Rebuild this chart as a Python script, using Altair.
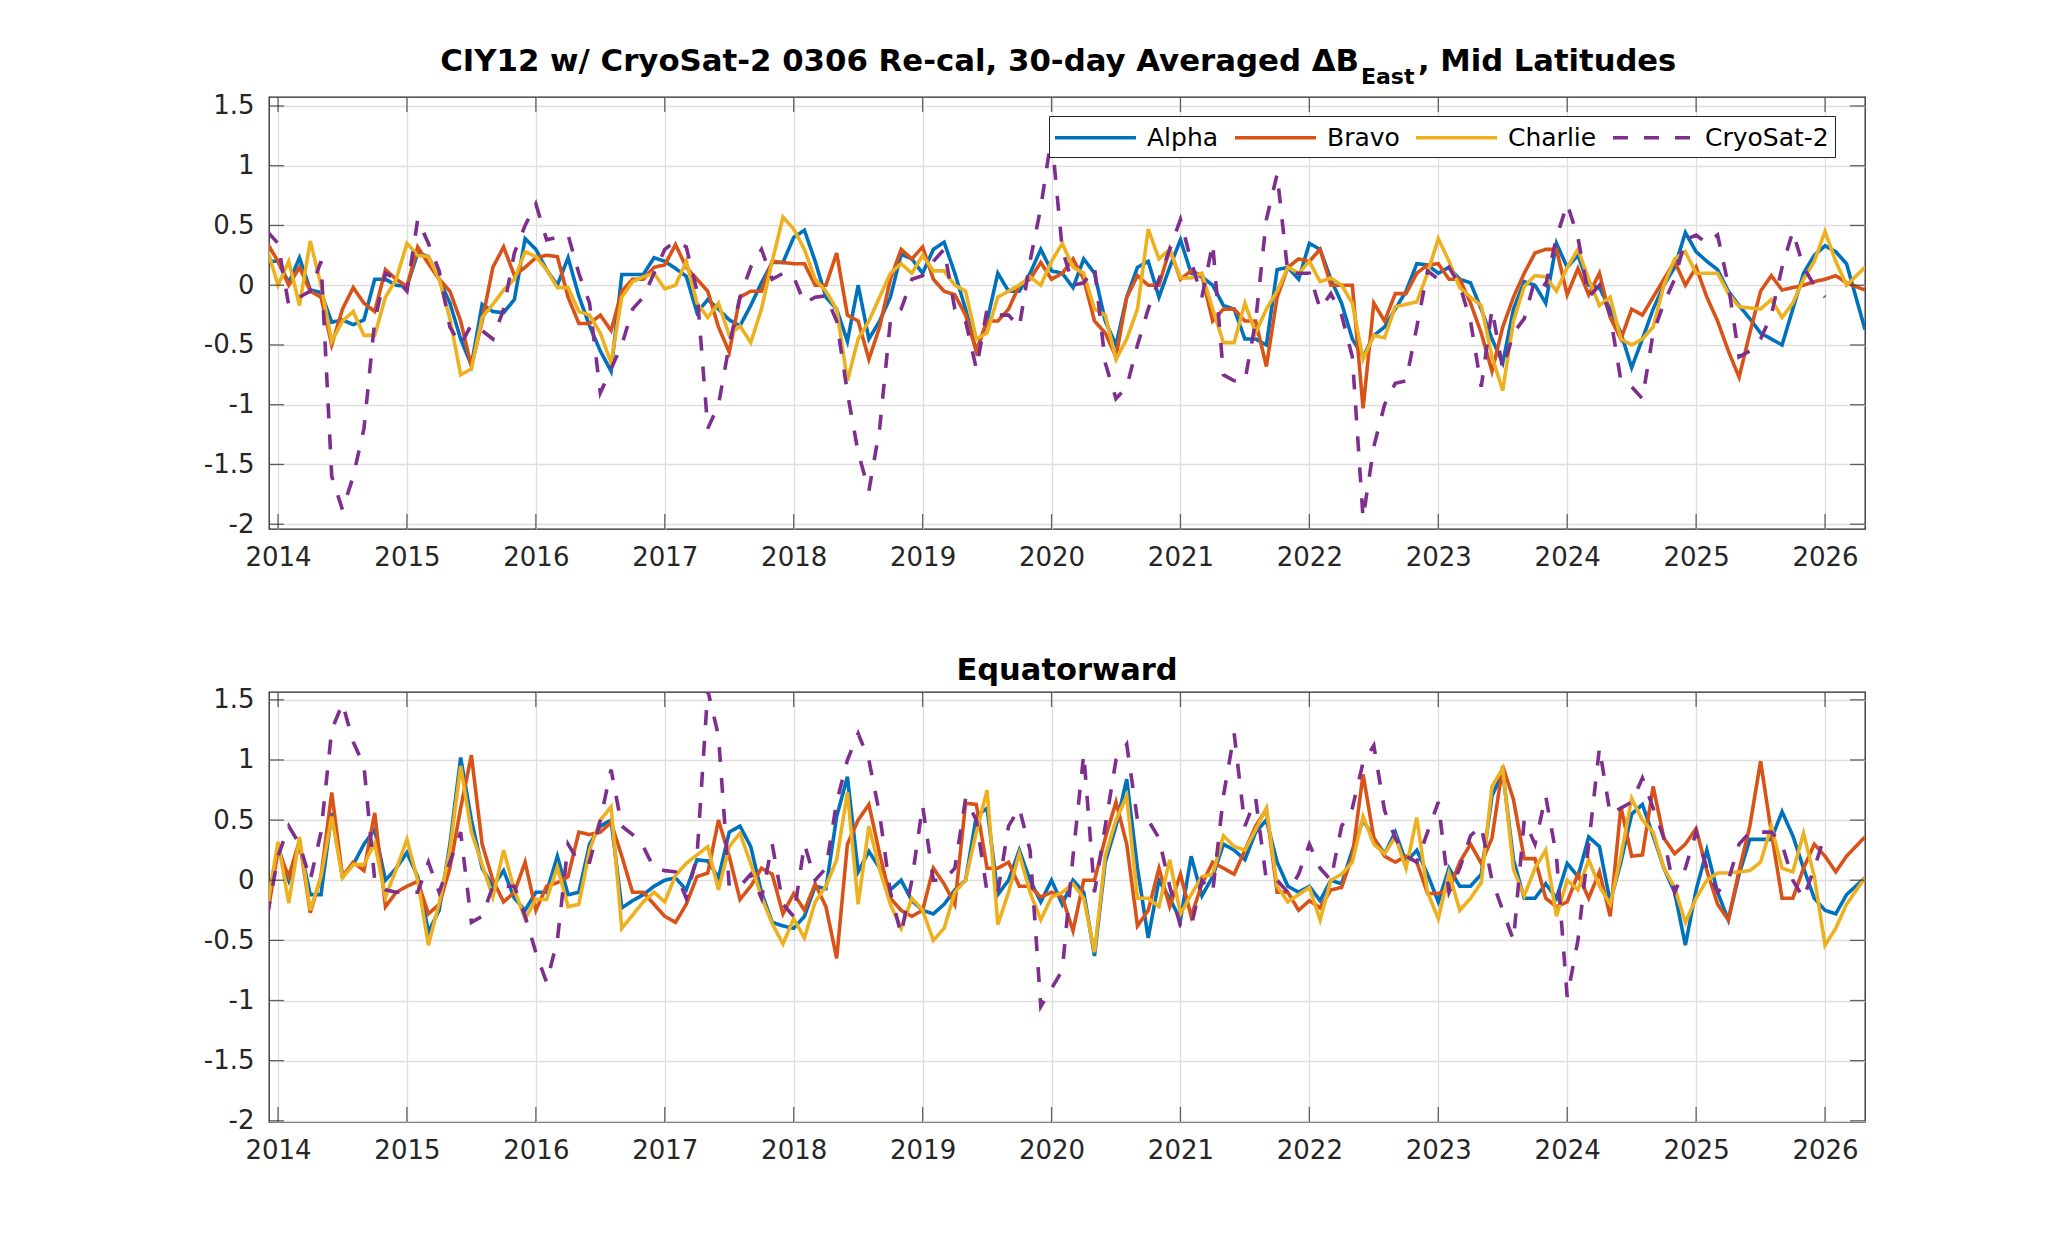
import altair as alt
import numpy as np
import pandas as pd

NAMES = ["Alpha", "Bravo", "Charlie", "CryoSat-2"]
COLORS = ["#0072BD", "#D95319", "#EDB120", "#7E2F8E"]
DASHES = [[1, 0], [1, 0], [1, 0], [15, 16]]
YEARS = list(range(2014, 2027))
YTICKS = [-2, -1.5, -1, -0.5, 0, 0.5, 1, 1.5]
T0, T1 = 2013.93, 2026.31
# monthly samples from Dec 2013; the last sample sits at the right edge of the axes
TIMES = [2014 + k / 12 for k in range(-1, 147)] + [T1]

TITLE_MAIN = "CIY12 w/ CryoSat-2 0306 Re-cal, 30-day Averaged \u0394B"
TITLE_SUB = "East"
TITLE_TAIL = ", Mid Latitudes"
TITLE_BOTTOM = "Equatorward"

top_alpha = [0.2, 0.2, 0.02, 0.23, -0.04, -0.06, -0.31, -0.29, -0.33, -0.29, 0.05, 0.05, 0.0,
             -0.01, 0.27, 0.24, 0.05, -0.15, -0.45, -0.67, -0.16, -0.22, -0.23, -0.12, 0.39,
             0.30, 0.13, 0.0, 0.23, -0.09, -0.34, -0.55, -0.72, 0.09, 0.09, 0.09, 0.23,
             0.2, 0.14, 0.075, -0.23, -0.12, -0.2, -0.29, -0.34, -0.17, 0.02, 0.19, 0.19,
             0.4, 0.46, 0.2, -0.1, -0.2, -0.47, 0.0, -0.45, -0.3, -0.1, 0.26, 0.22,
             0.1, 0.3, 0.36, 0.1, -0.2, -0.55, -0.3, 0.1, -0.05, -0.05, 0.1, 0.3,
             0.12, 0.1, -0.02, 0.22, 0.1, -0.3, -0.5, -0.1, 0.15, 0.2, -0.1, 0.15,
             0.38, 0.1, 0.07, 0.0, -0.17, -0.2, -0.45, -0.45, -0.5, 0.13, 0.15, 0.05,
             0.35, 0.3, 0.05, -0.15, -0.45, -0.6, -0.42, -0.35, -0.2, -0.05, 0.18, 0.17,
             0.1, 0.15, 0.05, 0.02, -0.2, -0.45, -0.65, -0.2, 0.03, 0.0, -0.15, 0.35,
             0.15, 0.25, 0.0, -0.02, -0.2, -0.4, -0.69, -0.45, -0.2, 0.0, 0.15, 0.44,
             0.28, 0.2, 0.13, -0.05, -0.17, -0.28, -0.4, -0.45, -0.5, -0.2, 0.1, 0.25,
             0.33, 0.28, 0.18, -0.37]

top_bravo = [0.35, 0.2, 0.0, 0.15, -0.05, -0.1, -0.5, -0.2, -0.02, -0.15, -0.22, 0.13, 0.05,
             -0.01, 0.32, 0.18, 0.05, -0.05, -0.3, -0.68, -0.3, 0.15, 0.32, 0.08, 0.15,
             0.23, 0.25, 0.24, -0.1, -0.32, -0.32, -0.25, -0.38, -0.05, 0.05, 0.05, 0.15,
             0.17, 0.34, 0.15, 0.05, -0.05, -0.35, -0.56, -0.1, -0.05, -0.05, 0.2, 0.19,
             0.18, 0.18, 0.0, 0.0, 0.27, -0.25, -0.3, -0.62, -0.35, 0.05, 0.3, 0.22,
             0.32, 0.05, -0.05, -0.08, -0.25, -0.55, -0.3, -0.3, -0.2, 0.0, 0.05, 0.19,
             0.05, 0.1, 0.22, 0.05, -0.3, -0.4, -0.6, -0.1, 0.08, 0.0, 0.0, 0.3,
             0.05, 0.12, 0.08, -0.3, -0.2, -0.2, -0.3, -0.3, -0.68, -0.1, 0.15, 0.22,
             0.2, 0.3, 0.0, 0.0, 0.0, -1.03, -0.15, -0.3, -0.07, -0.07, 0.1, 0.17,
             0.18, 0.05, 0.05, -0.15, -0.4, -0.72, -0.35, -0.1, 0.1, 0.27, 0.3, 0.3,
             -0.08, 0.14, -0.08, 0.1, -0.27, -0.45, -0.2, -0.25, -0.1, 0.05, 0.2, 0.0,
             0.15, -0.1, -0.3, -0.55, -0.77, -0.4, -0.05, 0.08, -0.04, -0.02, 0.0, 0.03,
             0.05, 0.08, 0.02, -0.04]

top_charlie = [0.3, 0.0, 0.2, -0.17, 0.37, 0.0, -0.47, -0.3, -0.22, -0.42, -0.42, -0.1, 0.05,
               0.35, 0.25, 0.24, 0.05, -0.28, -0.75, -0.7, -0.27, -0.16, -0.04, 0.05, 0.28,
               0.24, 0.13, -0.02, -0.02, -0.22, -0.25, -0.4, -0.65, -0.1, 0.03, 0.07, 0.1,
               -0.03, 0.0, 0.2, -0.15, -0.27, -0.15, -0.42, -0.34, -0.48, -0.2, 0.2, 0.57,
               0.47, 0.3, 0.05, -0.05, -0.2, -0.8, -0.45, -0.3, -0.1, 0.1, 0.18, 0.1,
               0.25, 0.12, 0.12, 0.0, -0.05, -0.45, -0.4, -0.1, -0.05, 0.0, 0.07, 0.0,
               0.2, 0.35, 0.15, 0.1, -0.2, -0.25, -0.62, -0.45, -0.2, 0.47, 0.22, 0.3,
               0.06, 0.06, 0.1, -0.2, -0.48, -0.48, -0.15, -0.4, -0.2, -0.05, 0.15, 0.1,
               0.2, 0.03, 0.06, 0.0, -0.15, -0.62, -0.42, -0.44, -0.18, -0.16, -0.14, 0.1,
               0.39, 0.2, -0.02, -0.1, -0.17, -0.6, -0.88, -0.3, -0.01, 0.08, 0.07, -0.05,
               0.15, 0.3, 0.05, -0.17, -0.1, -0.45, -0.5, -0.45, -0.35, 0.0, 0.22, 0.28,
               0.1, 0.1, 0.1, -0.07, -0.18, -0.19, -0.2, -0.12, -0.27, -0.15, 0.05, 0.2,
               0.45, 0.2, 0.0, 0.15]

top_cryosat = [0.45, 0.35, -0.17, -0.1, -0.05, 0.2, -1.6, -1.88, -1.6, -1.2, -0.3, 0.1, 0.05,
               -0.05, 0.55, 0.35, 0.12, -0.35, -0.5, -0.33, -0.38, -0.45, -0.2, 0.27, 0.5,
               0.68, 0.38, 0.4, 0.42, 0.1, -0.15, -0.9, -0.7, -0.5, -0.2, -0.1, 0.1,
               0.3, 0.37, 0.32, -0.05, -1.2, -1.0, -0.5, -0.1, 0.15, 0.3, 0.05, 0.1,
               0.07, -0.15, -0.1, -0.09, -0.3, -0.9, -1.4, -1.72, -1.2, -0.3, -0.2, 0.05,
               0.08, 0.2, 0.3, -0.2, -0.3, -0.7, -0.2, -0.25, -0.25, -0.35, 0.2, 0.65,
               1.25, 0.3, 0.0, 0.02, 0.15, -0.65, -0.95, -0.85, -0.5, -0.2, 0.05, 0.3,
               0.55, 0.2, -0.1, 0.35, -0.75, -0.8, -0.8, -0.3, 0.55, 0.93, 0.1, 0.1,
               0.1, -0.2, -0.07, -0.25, -0.6, -1.95, -1.35, -1.0, -0.82, -0.8, -0.35, 0.12,
               0.05, 0.15, 0.0, -0.3, -0.85, -0.2, -0.7, -0.4, -0.28, 0.05, 0.0, 0.4,
               0.68, 0.4, -0.1, 0.0, -0.25, -0.8, -0.85, -0.95, -0.4, -0.15, 0.05, 0.38,
               0.42, 0.35, 0.42, 0.0, -0.6, -0.55, -0.45, -0.25, 0.15, 0.45, 0.15, 0.0,
               -0.1, None, None, None]

bot_alpha = [-0.22, 0.28, 0.0, 0.3, -0.12, -0.12, 0.56, 0.03, 0.13, 0.3, 0.42, 0.0, 0.1,
             0.23, 0.03, -0.43, -0.25, 0.3, 1.02, 0.5, 0.1, -0.05, 0.08, -0.15, -0.25,
             -0.1, -0.1, 0.2, -0.12, -0.1, 0.3, 0.45, 0.5, -0.23, -0.17, -0.12, -0.05,
             0.0, 0.02, -0.08, 0.17, 0.16, 0.02, 0.4, 0.45, 0.28, -0.1, -0.35, -0.38,
             -0.4, -0.3, -0.05, -0.07, 0.53, 0.86, 0.07, 0.24, 0.1, -0.08, 0.0, -0.17,
             -0.25, -0.28, -0.2, -0.08, 0.0, 0.53, 0.6, -0.12, 0.0, 0.25, 0.0, -0.18,
             0.0, -0.2, 0.0, -0.1, -0.63, 0.15, 0.45, 0.84, 0.1, -0.48, 0.0, -0.15,
             -0.33, 0.2, -0.13, 0.03, 0.3, 0.25, 0.17, 0.4, 0.5, 0.15, -0.05, -0.1,
             -0.05, -0.17, 0.0, -0.03, 0.25, 0.5, 0.35, 0.22, 0.4, 0.15, 0.25, 0.05,
             -0.18, 0.1, -0.05, -0.05, 0.05, 0.7, 0.9, 0.17, -0.15, -0.15, -0.03, -0.15,
             0.14, 0.03, 0.36, 0.28, -0.18, 0.15, 0.55, 0.63, 0.37, 0.1, -0.1, -0.54,
             -0.08, 0.25, -0.1, -0.33, 0.05, 0.34, 0.34, 0.34, 0.57, 0.37, 0.1, -0.15,
             -0.25, -0.28, -0.12, 0.02]

bot_bravo = [-0.3, 0.25, 0.03, 0.33, -0.27, 0.03, 0.73, 0.03, 0.15, 0.08, 0.56, -0.22, -0.1,
             -0.05, -0.01, -0.28, -0.2, 0.1, 0.6, 1.04, 0.3, 0.0, -0.18, -0.1, 0.15,
             -0.25, -0.05, -0.02, 0.03, 0.4, 0.38, 0.4, 0.48, 0.2, -0.1, -0.1, -0.2,
             -0.3, -0.35, -0.2, 0.03, 0.06, 0.5, 0.2, -0.16, -0.05, 0.1, 0.05, -0.28,
             -0.11, -0.25, -0.03, -0.22, -0.65, 0.3, 0.5, 0.63, 0.22, -0.15, -0.25, -0.3,
             -0.25, 0.1, -0.03, -0.2, 0.64, 0.63, 0.1, 0.1, 0.15, -0.05, -0.05, -0.14,
             -0.1, -0.14, -0.42, 0.0, 0.0, 0.35, 0.65, 0.3, -0.38, -0.25, 0.1, -0.22,
             0.05, -0.3, -0.03, 0.15, 0.1, 0.05, 0.25, 0.45, 0.59, -0.1, -0.1, -0.25,
             -0.17, -0.23, -0.08, -0.06, 0.2, 0.88, 0.35, 0.2, 0.15, 0.2, 0.15, -0.11,
             -0.11, -0.08, 0.15, 0.3, 0.14, 0.35, 0.95, 0.67, 0.18, 0.18, -0.15, -0.22,
             -0.18, 0.05, -0.15, 0.07, -0.3, 0.61, 0.2, 0.21, 0.78, 0.35, 0.22, 0.3,
             0.43, 0.08, -0.2, -0.33, 0.08, 0.45, 0.99, 0.4, -0.15, -0.15, 0.1, 0.3,
             0.2, 0.07, 0.2, 0.36]

bot_charlie = [-0.22, 0.32, -0.19, 0.36, -0.25, 0.03, 0.53, 0.02, 0.13, 0.13, 0.31, -0.14, 0.09,
               0.34, 0.0, -0.54, -0.19, 0.25, 0.95, 0.4, 0.13, -0.14, 0.25, -0.08, -0.32,
               -0.16, -0.16, 0.11, -0.22, -0.2, 0.25, 0.5, 0.61, -0.4, -0.29, -0.18, -0.1,
               -0.18, 0.04, 0.14, 0.21, 0.28, -0.08, 0.28, 0.39, 0.14, -0.14, -0.36, -0.53,
               -0.32, -0.48, -0.18, -0.05, 0.17, 0.73, -0.2, 0.45, 0.09, -0.2, -0.4, -0.15,
               -0.25, -0.5, -0.4, -0.1, 0.0, 0.4, 0.75, -0.37, -0.1, 0.22, -0.1, -0.33,
               -0.14, -0.1, -0.03, -0.15, -0.6, 0.2, 0.5, 0.7, -0.15, -0.15, -0.22, 0.17,
               -0.28, -0.12, 0.03, 0.05, 0.37, 0.28, 0.25, 0.42, 0.6, -0.05, -0.18, -0.12,
               -0.06, -0.33, 0.0, 0.05, 0.15, 0.53, 0.3, 0.22, 0.36, 0.1, 0.52, -0.1,
               -0.32, 0.06, -0.25, -0.15, -0.02, 0.78, 0.93, 0.09, -0.13, 0.1, 0.25, -0.3,
               0.0, -0.08, 0.17, -0.05, -0.2, 0.2, 0.68, 0.5, 0.4, 0.1, -0.06, -0.35,
               -0.15, 0.0, 0.06, 0.06, 0.07, 0.08, 0.15, 0.45, 0.1, 0.07, 0.39, 0.03,
               -0.54, -0.4, -0.2, 0.02]

bot_cryosat = [-0.3, 0.2, 0.45, 0.3, 0.0, 0.4, 1.25, 1.47, 1.15, 0.95, 0.0, -0.08, -0.1,
               -0.1, -0.1, 0.15, -0.1, 0.15, 0.4, -0.35, -0.3, -0.05, -0.05, -0.05, -0.3,
               -0.6, -0.85, -0.5, 0.3, 0.15, 0.15, 0.5, 0.92, 0.45, 0.38, 0.28, 0.1,
               0.08, 0.07, -0.15, 0.2, 1.58, 1.2, -0.05, -0.05, 0.05, -0.15, 0.3, -0.2,
               -0.3, 0.3, 0.0, 0.1, 0.65, 1.0, 1.22, 1.0, 0.55, -0.1, -0.45, 0.0,
               0.62, 0.0, 0.0, 0.1, 0.68, 0.5, -0.1, -0.1, 0.45, 0.6, 0.25, -1.05,
               -0.9, -0.75, 0.2, 1.05, -0.1, 0.45, 1.0, 1.13, 0.5, 0.5, 0.35, -0.05,
               -0.38, -0.38, 0.0, -0.1, 0.7, 1.22, 0.45, 0.68, 0.0, 0.0, -0.1, 0.05,
               0.3, 0.1, 0.0, 0.45, 0.6, 0.98, 1.12, 0.58, 0.35, 0.2, 0.15, 0.4,
               0.65, -0.1, 0.1, 0.37, 0.45, 0.0, -0.25, -0.5, 0.5, 0.3, 0.7, 0.2,
               -0.97, -0.5, 0.3, 1.1, 0.55, 0.6, 0.65, 0.85, 0.6, 0.35, -0.1, 0.1,
               0.4, 0.1, -0.1, 0.0, 0.3, 0.4, 0.4, 0.4, 0.3, 0.0, -0.15, 0.1,
               0.38, None, None, None]

AX = "#262626"
FONT = "DejaVu Sans"
W = 1596
LW = 3.6


def series_frame(name, vals):
    rows = [{"t": float(t), "v": v, "series": name} for t, v in zip(TIMES, vals) if v is not None]
    return pd.DataFrame(rows)


def text_layer(text, size, align, x, y):
    return alt.Chart(pd.DataFrame({"a": [0]})).mark_text(
        text=text, font=FONT, fontSize=size, fontWeight="bold", align=align,
        baseline="alphabetic", color="black"
    ).encode(x=alt.value(x), y=alt.value(y))


def panel(series_vals, ydom, height, show_legend, extra_layers):
    x_enc = alt.X("t:Q", scale=alt.Scale(domain=[T0, T1], nice=False, zero=False),
                  axis=alt.Axis(values=YEARS, labelExpr="'' + datum.value", title=None,
                                grid=True, ticks=False, domain=False, labelPadding=15))
    y_enc = alt.Y("v:Q", scale=alt.Scale(domain=ydom, nice=False, zero=False),
                  axis=alt.Axis(values=YTICKS, labelExpr="'' + datum.value", title=None,
                                grid=True, ticks=False, domain=False, labelPadding=15))
    if show_legend:
        leg = alt.Legend(title=None, orient="none", legendX=780, legendY=19, direction="horizontal",
                         symbolType="M-3,0H3", symbolSize=729, symbolStrokeWidth=LW,
                         symbolOffset=25, labelOffset=36,
                         labelFont=FONT, labelFontSize=25, labelColor="black",
                         strokeColor=AX, fillColor="white", padding=6,
                         columnPadding=8, symbolOpacity=1)
    else:
        leg = None
    col = alt.Color("series:N", scale=alt.Scale(domain=NAMES, range=COLORS), legend=leg)
    dash = alt.StrokeDash("series:N", scale=alt.Scale(domain=NAMES, range=DASHES), legend=leg)

    layers = []
    for name, vals in zip(NAMES, series_vals):
        layers.append(
            alt.Chart(series_frame(name, vals))
            .mark_line(strokeWidth=LW, clip=True)
            .encode(x=x_enc, y=y_enc, color=col, strokeDash=dash)
        )
    xt = pd.DataFrame({"t": YEARS})
    yt = pd.DataFrame({"v": YTICKS})
    tick = dict(size=15, thickness=1.3, color=AX)
    layers.append(alt.Chart(xt).mark_tick(orient="vertical", **tick).encode(x=x_enc, y=alt.value(height - 7.5)))
    layers.append(alt.Chart(xt).mark_tick(orient="vertical", **tick).encode(x=x_enc, y=alt.value(7.5)))
    layers.append(alt.Chart(yt).mark_tick(orient="horizontal", **tick).encode(y=y_enc, x=alt.value(7.5)))
    layers.append(alt.Chart(yt).mark_tick(orient="horizontal", **tick).encode(y=y_enc, x=alt.value(W - 7.5)))
    layers.extend(extra_layers)
    return alt.layer(*layers).properties(width=W, height=height)


top_titles = [
    text_layer(TITLE_MAIN, 30.8, "right", 1090, -26),
    text_layer(TITLE_SUB, 22, "left", 1092, -13),
    text_layer(TITLE_TAIL, 30.6, "left", 1149, -26),
]
bottom_titles = [text_layer(TITLE_BOTTOM, 30.5, "center", W / 2, -12)]

top = panel([top_alpha, top_bravo, top_charlie, top_cryosat], [-2.04, 1.575], 432, True, top_titles)
bottom = panel([bot_alpha, bot_bravo, bot_charlie, bot_cryosat], [-2.01, 1.565], 430, False, bottom_titles)

chart = (
    alt.vconcat(top, bottom, spacing=84)
    .resolve_scale(x="independent", y="independent", color="independent", strokeDash="independent")
    .properties(padding={"left": 194, "top": 37, "right": 20, "bottom": 20}, background="white")
    .configure_view(stroke=AX, strokeWidth=1.3)
    .configure_axis(labelFont=FONT, labelFontSize=26, labelColor=AX, gridColor="#dedede", gridWidth=1.3)
)

chart.save("out.html", embed_options={"renderer": "svg", "actions": False})
